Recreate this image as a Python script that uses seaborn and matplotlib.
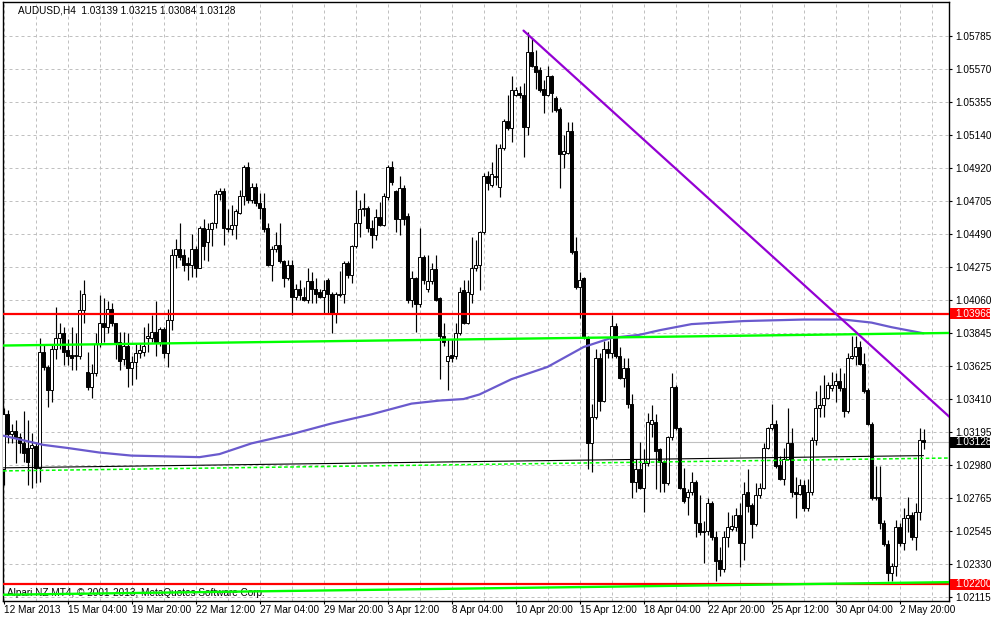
import numpy as np
import matplotlib
matplotlib.use("Agg")
import matplotlib.pyplot as plt
import matplotlib.transforms as mtransforms
from matplotlib.patches import Rectangle
import seaborn as sns

# AUDUSD H4 candles, bar 0 = first visible bar
opens = [
    1.0295, 1.0331, 1.0318, 1.0320, 1.0316, 1.0312, 1.0309, 1.0309, 1.0310, 1.0296,
    1.0372, 1.0362, 1.0347, 1.0374, 1.0381, 1.0384, 1.0373, 1.0370, 1.0369, 1.0369,
    1.0399, 1.0359, 1.0349, 1.0358, 1.0377, 1.0391, 1.0388, 1.0400, 1.0391, 1.0378,
    1.0367, 1.0376, 1.0361, 1.0365, 1.0371, 1.0372, 1.0381, 1.0381, 1.0385, 1.0378,
    1.0387, 1.0371, 1.0393, 1.0435, 1.0439, 1.0435, 1.0430, 1.0429, 1.0439, 1.0427,
    1.0453, 1.0444, 1.0452, 1.0456, 1.0475, 1.0477, 1.0453, 1.0452, 1.0455, 1.0463,
    1.0474, 1.0493, 1.0471, 1.0480, 1.0469, 1.0466, 1.0453, 1.0429, 1.0439, 1.0442,
    1.0431, 1.0420, 1.0429, 1.0408, 1.0413, 1.0408, 1.0406, 1.0418, 1.0413, 1.0411,
    1.0408, 1.0419, 1.0410, 1.0397, 1.0410, 1.0410, 1.0430, 1.0422, 1.0441, 1.0456,
    1.0465, 1.0466, 1.0453, 1.0448, 1.0460, 1.0455, 1.0473, 1.0493, 1.0477, 1.0459,
    1.0479, 1.0461, 1.0406, 1.0420, 1.0403, 1.0434, 1.0413, 1.0418, 1.0426, 1.0407,
    1.0382, 1.0366, 1.0370, 1.0369, 1.0384, 1.0412, 1.0391, 1.0410, 1.0427, 1.0429,
    1.0450, 1.0487, 1.0481, 1.0487, 1.0480, 1.0505, 1.0523, 1.0518, 1.0540, 1.0541,
    1.0540, 1.0519, 1.0568, 1.0559, 1.0556, 1.0544, 1.0540, 1.0552, 1.0538, 1.0531,
    1.0501, 1.0502, 1.0516, 1.0438, 1.0414, 1.0420, 1.0381, 1.0312, 1.0329, 1.0368,
    1.0340, 1.0374, 1.0371, 1.0389, 1.0369, 1.0355, 1.0361, 1.0338, 1.0287, 1.0295,
    1.0283, 1.0299, 1.0325, 1.0326, 1.0308, 1.0300, 1.0286, 1.0316, 1.0349, 1.0322,
    1.0283, 1.0277, 1.0280, 1.0287, 1.0260, 1.0254, 1.0255, 1.0273, 1.0251, 1.0236,
    1.0230, 1.0251, 1.0256, 1.0257, 1.0265, 1.0247, 1.0280, 1.0272, 1.0259, 1.0278,
    1.0283, 1.0309, 1.0322, 1.0325, 1.0298, 1.0289, 1.0302, 1.0312, 1.0280, 1.0279,
    1.0285, 1.0270, 1.0280, 1.0314, 1.0335, 1.0337, 1.0342, 1.0348, 1.0350, 1.0353,
    1.0348, 1.0333, 1.0368, 1.0369, 1.0375, 1.0364, 1.0347, 1.0325, 1.0276, 1.0277,
    1.0260, 1.0246, 1.0227, 1.0232, 1.0257, 1.0247, 1.0263, 1.0265, 1.0251, 1.0267,
    1.03139,
]
highs = [
    1.0335, 1.0334, 1.0325, 1.0327, 1.0319, 1.0333, 1.0327, 1.0319, 1.0313, 1.0381,
    1.0377, 1.0363, 1.0377, 1.0401, 1.0391, 1.0388, 1.0380, 1.0388, 1.0384, 1.0412,
    1.0419, 1.0372, 1.0364, 1.0384, 1.0409, 1.0407, 1.0405, 1.0404, 1.0391, 1.0385,
    1.0385, 1.0384, 1.0369, 1.0377, 1.0377, 1.0388, 1.0391, 1.0396, 1.0405, 1.0388,
    1.0388, 1.0400, 1.0439, 1.0446, 1.0456, 1.0439, 1.0434, 1.0449, 1.0441, 1.0454,
    1.0459, 1.0456, 1.0457, 1.0478, 1.0479, 1.0479, 1.0465, 1.0468, 1.0465, 1.0478,
    1.0494, 1.0496, 1.0482, 1.0482, 1.0476, 1.0476, 1.0456, 1.0441, 1.0450, 1.0456,
    1.0432, 1.0432, 1.0432, 1.0416, 1.0419, 1.0414, 1.0427, 1.0424, 1.0420, 1.0413,
    1.0419, 1.0420, 1.0411, 1.0411, 1.0425, 1.0431, 1.0431, 1.0442, 1.0478, 1.0471,
    1.0476, 1.0467, 1.0458, 1.0465, 1.0470, 1.0476, 1.0494, 1.0497, 1.0478, 1.0487,
    1.0481, 1.0463, 1.0425, 1.0421, 1.0453, 1.0435, 1.0435, 1.0430, 1.0435, 1.0408,
    1.0391, 1.0380, 1.0380, 1.0391, 1.0414, 1.0419, 1.0419, 1.0447, 1.0445, 1.0451,
    1.0489, 1.0490, 1.0496, 1.0508, 1.0508, 1.0524, 1.0540, 1.0552, 1.0545, 1.0546,
    1.0548, 1.0581, 1.0577, 1.0569, 1.0558, 1.0550, 1.0559, 1.0553, 1.0539, 1.0532,
    1.0514, 1.0522, 1.0522, 1.0447, 1.0424, 1.0421, 1.0382, 1.0338, 1.0374, 1.0371,
    1.0379, 1.0379, 1.0396, 1.0391, 1.0375, 1.0368, 1.0368, 1.0344, 1.0302, 1.0313,
    1.0308, 1.0332, 1.0337, 1.0331, 1.0309, 1.0301, 1.0317, 1.0358, 1.0350, 1.0323,
    1.0296, 1.0282, 1.0293, 1.0288, 1.0278, 1.0261, 1.0276, 1.0274, 1.0255, 1.0244,
    1.0255, 1.0267, 1.0265, 1.0270, 1.0273, 1.0287, 1.0295, 1.0273, 1.0286, 1.0286,
    1.0312, 1.0323, 1.0338, 1.0327, 1.0304, 1.0309, 1.0335, 1.0322, 1.0290, 1.0289,
    1.0288, 1.0289, 1.0316, 1.0346, 1.0350, 1.0357, 1.0352, 1.0359, 1.0358, 1.0361,
    1.0358, 1.0371, 1.0382, 1.0382, 1.0379, 1.0371, 1.0348, 1.0326, 1.0297, 1.0297,
    1.0262, 1.0249, 1.0234, 1.0262, 1.0260, 1.0270, 1.0277, 1.0267, 1.0273, 1.0322,
    1.03215,
]
lows = [
    1.0285, 1.0312, 1.0312, 1.0299, 1.0306, 1.0300, 1.0285, 1.0283, 1.0286, 1.0287,
    1.0360, 1.0336, 1.0339, 1.0367, 1.0374, 1.0363, 1.0363, 1.0360, 1.0360, 1.0367,
    1.0391, 1.0347, 1.0342, 1.0356, 1.0375, 1.0378, 1.0384, 1.0389, 1.0367, 1.0360,
    1.0363, 1.0349, 1.0350, 1.0354, 1.0368, 1.0369, 1.0372, 1.0378, 1.0369, 1.0376,
    1.0368, 1.0362, 1.0386, 1.0427, 1.0432, 1.0425, 1.0419, 1.0421, 1.0421, 1.0427,
    1.0432, 1.0431, 1.0441, 1.0453, 1.0471, 1.0442, 1.0450, 1.0448, 1.0446, 1.0462,
    1.0468, 1.0469, 1.0469, 1.0467, 1.0459, 1.0450, 1.0428, 1.0418, 1.0437, 1.0430,
    1.0414, 1.0419, 1.0396, 1.0406, 1.0406, 1.0405, 1.0404, 1.0404, 1.0404, 1.0407,
    1.0397, 1.0397, 1.0384, 1.0391, 1.0408, 1.0404, 1.0420, 1.0417, 1.0440, 1.0447,
    1.0461, 1.0450, 1.0440, 1.0445, 1.0454, 1.0454, 1.0471, 1.0481, 1.0450, 1.0448,
    1.0455, 1.0404, 1.0401, 1.0385, 1.0401, 1.0416, 1.0411, 1.0416, 1.0405, 1.0354,
    1.0376, 1.0347, 1.0365, 1.0367, 1.0383, 1.0390, 1.0390, 1.0404, 1.0425, 1.0412,
    1.0449, 1.0478, 1.0480, 1.0481, 1.0473, 1.0504, 1.0517, 1.0509, 1.0539, 1.0538,
    1.0499, 1.0514, 1.0558, 1.0544, 1.0542, 1.0528, 1.0539, 1.0529, 1.0529, 1.0479,
    1.0492, 1.0501, 1.0436, 1.0413, 1.0394, 1.0380, 1.0295, 1.0293, 1.0328, 1.0333,
    1.0339, 1.0368, 1.0368, 1.0368, 1.0354, 1.0349, 1.0335, 1.0276, 1.0280, 1.0282,
    1.0267, 1.0297, 1.0316, 1.0282, 1.0280, 1.0280, 1.0285, 1.0314, 1.0321, 1.0282,
    1.0273, 1.0265, 1.0278, 1.0251, 1.0252, 1.0234, 1.0252, 1.0249, 1.0222, 1.0225,
    1.0228, 1.0244, 1.0255, 1.0255, 1.0231, 1.0236, 1.0267, 1.0250, 1.0258, 1.0276,
    1.0282, 1.0308, 1.0321, 1.0296, 1.0288, 1.0285, 1.0301, 1.0277, 1.0263, 1.0278,
    1.0268, 1.0268, 1.0278, 1.0311, 1.0329, 1.0329, 1.0341, 1.0346, 1.0339, 1.0346,
    1.0329, 1.0332, 1.0367, 1.0363, 1.0363, 1.0345, 1.0324, 1.0275, 1.0275, 1.0256,
    1.0245, 1.0222, 1.0222, 1.0225, 1.0245, 1.0242, 1.0254, 1.0249, 1.0242, 1.0262,
    1.03084,
]
closes = [
    1.0331, 1.0318, 1.0320, 1.0316, 1.0312, 1.0306, 1.0300, 1.0311, 1.0296, 1.0372,
    1.0362, 1.0347, 1.0374, 1.0381, 1.0384, 1.0372, 1.0369, 1.0368, 1.0370, 1.0399,
    1.0410, 1.0349, 1.0358, 1.0377, 1.0391, 1.0388, 1.0400, 1.0391, 1.0378, 1.0366,
    1.0376, 1.0361, 1.0365, 1.0371, 1.0373, 1.0376, 1.0382, 1.0385, 1.0378, 1.0387,
    1.0371, 1.0393, 1.0435, 1.0439, 1.0434, 1.0429, 1.0429, 1.0439, 1.0427, 1.0453,
    1.0441, 1.0452, 1.0456, 1.0475, 1.0477, 1.0453, 1.0452, 1.0455, 1.0464, 1.0474,
    1.0493, 1.0471, 1.0480, 1.0469, 1.0466, 1.0452, 1.0429, 1.0439, 1.0442, 1.0431,
    1.0420, 1.0429, 1.0408, 1.0413, 1.0409, 1.0406, 1.0418, 1.0413, 1.0410, 1.0408,
    1.0412, 1.0410, 1.0397, 1.0410, 1.0409, 1.0430, 1.0422, 1.0441, 1.0456, 1.0465,
    1.0466, 1.0453, 1.0448, 1.0460, 1.0455, 1.0474, 1.0493, 1.0483, 1.0459, 1.0479,
    1.0459, 1.0406, 1.0420, 1.0403, 1.0434, 1.0419, 1.0418, 1.0426, 1.0406, 1.0382,
    1.0378, 1.0369, 1.0368, 1.0384, 1.0411, 1.0391, 1.0411, 1.0427, 1.0429, 1.0450,
    1.0487, 1.0482, 1.0488, 1.0486, 1.0505, 1.0523, 1.0518, 1.0543, 1.0543, 1.0540,
    1.0519, 1.0568, 1.0559, 1.0555, 1.0543, 1.0540, 1.0552, 1.0541, 1.0530, 1.0501,
    1.0503, 1.0516, 1.0437, 1.0414, 1.0419, 1.0381, 1.0312, 1.0329, 1.0368, 1.0340,
    1.0374, 1.0371, 1.0389, 1.0369, 1.0355, 1.0361, 1.0338, 1.0287, 1.0295, 1.0283,
    1.0299, 1.0326, 1.0327, 1.0307, 1.0300, 1.0286, 1.0316, 1.0349, 1.0322, 1.0283,
    1.0274, 1.0280, 1.0287, 1.0260, 1.0254, 1.0255, 1.0273, 1.0251, 1.0235, 1.0230,
    1.0251, 1.0257, 1.0258, 1.0265, 1.0247, 1.0279, 1.0271, 1.0259, 1.0278, 1.0283,
    1.0309, 1.0322, 1.0325, 1.0297, 1.0289, 1.0302, 1.0312, 1.0280, 1.0279, 1.0285,
    1.0270, 1.0280, 1.0314, 1.0335, 1.0337, 1.0342, 1.0350, 1.0350, 1.0353, 1.0348,
    1.0333, 1.0368, 1.0369, 1.0375, 1.0364, 1.0346, 1.0325, 1.0276, 1.0277, 1.0260,
    1.0246, 1.0227, 1.0232, 1.0257, 1.0247, 1.0263, 1.0265, 1.0251, 1.0267, 1.0314,
    1.03128,
]

# moving average (slate blue), read at some bars
ma_bars = [0, 10, 16, 24, 32, 49, 54, 62, 72, 82, 92, 102, 109, 115, 119, 127,
           136, 145, 152, 159, 164, 172, 185, 200, 210, 217, 222, 230]
ma_values = [1.0317, 1.0311, 1.0309, 1.0306, 1.0304, 1.0303, 1.0305, 1.0312,
             1.0318, 1.0325, 1.0331, 1.0338, 1.0340, 1.0341, 1.0344, 1.0354,
             1.0362, 1.0375, 1.0381, 1.0383, 1.0386, 1.0390, 1.0392, 1.0393,
             1.0393, 1.0391, 1.0388, 1.0384]

# slow black average and the dashed green line just under it
slow_bars = [0, 230]
slow_values = [1.0296, 1.0304]
dash_bars = [0, 230]
dash_values = [1.02940, 1.03022]

# hand drawn objects
resistance = 1.03968
support = 1.02200
bid = 1.03128
upper_bars = [0, 230]
upper_values = [1.0376, 1.0384]
lower_bars = [0, 230]
lower_values = [1.0213, 1.0221]
down_bars = [130, 240]
down_values = [1.0582, 1.0321]

price_ticks = [1.05785, 1.05570, 1.05355, 1.05140, 1.04920, 1.04705, 1.04490,
               1.04275, 1.04060, 1.03845, 1.03625, 1.03410, 1.03195, 1.02980,
               1.02765, 1.02545, 1.02330, 1.02115]
date_labels = ['12 Mar 2013', '15 Mar 04:00', '19 Mar 20:00', '22 Mar 12:00',
               '27 Mar 04:00', '29 Mar 20:00', '3 Apr 12:00', '8 Apr 04:00',
               '10 Apr 20:00', '15 Apr 12:00', '18 Apr 04:00', '22 Apr 20:00',
               '25 Apr 12:00', '30 Apr 04:00', '2 May 20:00']

sns.set_style("white")
plt.rcParams['font.family'] = ['Liberation Sans', 'DejaVu Sans']

fig = plt.figure(figsize=(9.92, 6.18), dpi=100)
ax = fig.add_axes([3 / 992, 17 / 618, 946 / 992, 599 / 618])

o = np.array(opens)
h = np.array(highs)
l = np.array(lows)
c = np.array(closes)
h = np.maximum(h, np.maximum(o, c))
l = np.minimum(l, np.minimum(o, c))
x = np.arange(len(o))
up = c >= o

# candles
ax.vlines(x, l, h, color='black', lw=0.85, zorder=2)
body = np.maximum(np.abs(c - o), 0.00003)
low_side = np.minimum(o, c)
ax.bar(x[up], body[up], bottom=low_side[up], width=0.56, color='white',
       edgecolor='black', linewidth=0.7, zorder=3)
ax.bar(x[~up], body[~up], bottom=low_side[~up], width=0.56, color='black',
       edgecolor='black', linewidth=0.7, zorder=3)

# lines
ax.axhline(bid, color='#c0c0c0', lw=0.8, zorder=1)
ax.axline((dash_bars[0], dash_values[0]), (dash_bars[1], dash_values[1]),
          color='#00ff00', lw=1.1, ls=(0, (2.4, 1.6)), zorder=4)
sns.lineplot(x=slow_bars, y=slow_values, ax=ax, color='black', lw=0.8, zorder=4)
sns.lineplot(x=ma_bars, y=ma_values, ax=ax, color='#6a5acd', lw=1.6, zorder=4)
ax.axhline(resistance, color='#ff0000', lw=1.6, zorder=5)
ax.axhline(support, color='#ff0000', lw=1.6, zorder=5)
ax.axline((upper_bars[0], upper_values[0]), (upper_bars[1], upper_values[1]),
          color='#00ff00', lw=1.7, zorder=6)
ax.axline((lower_bars[0], lower_values[0]), (lower_bars[1], lower_values[1]),
          color='#00ff00', lw=1.7, zorder=6)
sns.lineplot(x=down_bars, y=down_values, ax=ax, color='#9400d3', lw=1.6, zorder=6)

ax.set_xlim(-0.125, 236.375)
ax.set_ylim(1.02089, 1.06007)
ax.set_xlabel('')
ax.set_ylabel('')

# axes, ticks and grid
ax.set_xticks(np.arange(len(date_labels)) * 16)
ax.set_xticklabels(date_labels, ha='left')
ax.set_xticks(np.arange(8, 236, 8), minor=True)
ax.yaxis.tick_right()
ax.set_yticks(price_ticks)
ax.set_yticklabels([f'{v:.5f}' for v in price_ticks])
ax.tick_params(axis='y', which='major', direction='out', length=2.2, width=0.8,
               labelsize=7.2, pad=2, colors='black', right=True, left=False)
ax.tick_params(axis='x', which='major', direction='out', length=2.2, width=0.8,
               labelsize=7.2, pad=0.5, colors='black', bottom=True)
ax.tick_params(axis='x', which='minor', length=0)
ax.grid(True, which='both', axis='x', color='#c0c0c0', ls=(0, (3, 3)), lw=0.72)
ax.grid(True, which='major', axis='y', color='#c0c0c0', ls=(0, (3, 3)), lw=0.72)
ax.set_axisbelow(True)
for sp in ax.spines.values():
    sp.set_color('black')
    sp.set_linewidth(1.0)

# highlighted prices on the scale
trans = mtransforms.blended_transform_factory(ax.transAxes, ax.transData)
for value, face in [(resistance, '#ff0000'), (bid, 'black'), (support, '#ff0000')]:
    ax.add_patch(Rectangle((1.0011, value - 0.00036), 0.0423, 0.00072,
                           transform=trans, facecolor=face, edgecolor='none',
                           clip_on=False, zorder=10))
    ax.text(1.0063, value, f'{value:.5f}', transform=trans, ha='left',
            va='center', fontsize=7.2, color='white', zorder=11)

# header and copyright
fig.text(18 / 992, 1 - 10.5 / 618, 'AUDUSD,H4  1.03139 1.03215 1.03084 1.03128',
         fontsize=7.2, va='center', ha='left', color='black')
ax.text(4 / 946, 8 / 599, 'Alpari NZ MT4, © 2001-2013, MetaQuotes Software Corp.',
        transform=ax.transAxes, fontsize=7.2, va='center', ha='left',
        color='black', zorder=5)

fig.savefig('out.png', dpi=100)
